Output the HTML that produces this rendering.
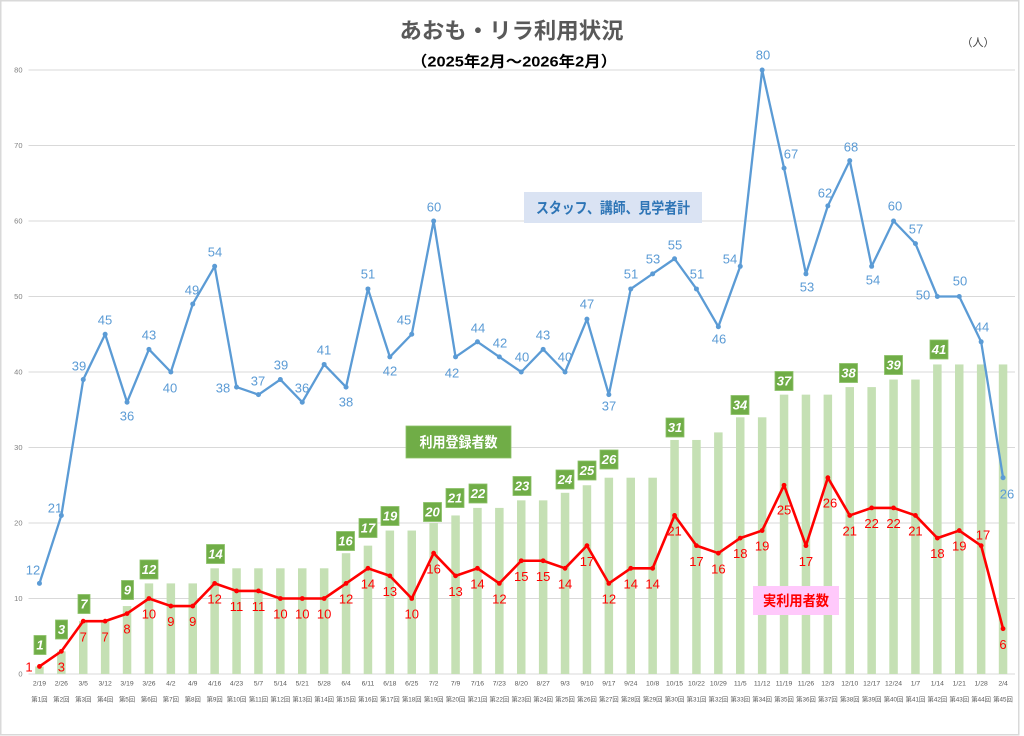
<!DOCTYPE html>
<html lang="ja">
<head>
<meta charset="utf-8">
<style>
  html,body{margin:0;padding:0;background:#fff;}
  body{width:1024px;height:736px;overflow:hidden;}
  svg{display:block;}
  .jp{font-family:"Liberation Sans","Noto Sans CJK JP",sans-serif;}
  .lat{font-family:"Liberation Sans",sans-serif;}
</style>
</head>
<body>
<svg width="1024" height="736" viewBox="0 0 1024 736" xmlns="http://www.w3.org/2000/svg">
  <defs>
    <marker id="mb" markerWidth="6" markerHeight="6" refX="3" refY="3" markerUnits="userSpaceOnUse">
      <circle cx="3" cy="3" r="2.5" fill="#5b9bd5"/>
    </marker>
    <marker id="mr" markerWidth="6" markerHeight="6" refX="3" refY="3" markerUnits="userSpaceOnUse">
      <circle cx="3" cy="3" r="2.4" fill="#ff0000"/>
    </marker>
  </defs>

  <rect x="0" y="0" width="1024" height="736" fill="#fff"/>
  <rect x="0.75" y="0.75" width="1018" height="734" fill="none" stroke="#d9d9d9" stroke-width="1.5"/>

  <!-- Title -->
  <text class="jp" x="511.5" y="38.5" text-anchor="middle" font-size="22" font-weight="bold" fill="#595959" textLength="224" lengthAdjust="spacingAndGlyphs">あおも・リラ利用状況</text>
  <text class="jp" x="514" y="66.5" text-anchor="middle" font-size="15" font-weight="bold" fill="#000" textLength="206" lengthAdjust="spacingAndGlyphs">（2025年2月～2026年2月）</text>
  <text class="jp" x="978" y="46" text-anchor="middle" font-size="11" fill="#404040">（人）</text>

  <!-- gridlines -->
  <g stroke="#d9d9d9" stroke-width="1">
    <line x1="28.5" y1="70" x2="1015" y2="70"/>
    <line x1="28.5" y1="145.5" x2="1015" y2="145.5"/>
    <line x1="28.5" y1="221" x2="1015" y2="221"/>
    <line x1="28.5" y1="296.5" x2="1015" y2="296.5"/>
    <line x1="28.5" y1="372" x2="1015" y2="372"/>
    <line x1="28.5" y1="447.5" x2="1015" y2="447.5"/>
    <line x1="28.5" y1="523" x2="1015" y2="523"/>
    <line x1="28.5" y1="598.5" x2="1015" y2="598.5"/>
    <line x1="28.5" y1="674" x2="1015" y2="674"/>
  </g>

  <!-- y tick labels -->
  <g class="lat" font-size="7.5" fill="#808080" text-anchor="end">
    <text x="22.5" y="72.7">80</text>
    <text x="22.5" y="148.2">70</text>
    <text x="22.5" y="223.7">60</text>
    <text x="22.5" y="299.2">50</text>
    <text x="22.5" y="374.7">40</text>
    <text x="22.5" y="450.2">30</text>
    <text x="22.5" y="525.7">20</text>
    <text x="22.5" y="601.2">10</text>
    <text x="22.5" y="676.7">0</text>
  </g>

  <!-- bars -->
  <g fill="#c5e0b4">
    <rect x="35.2" y="666.45" width="8.5" height="7.55"/>
    <rect x="57.1" y="651.35" width="8.5" height="22.65"/>
    <rect x="79.0" y="621.15" width="8.5" height="52.85"/>
    <rect x="100.9" y="621.15" width="8.5" height="52.85"/>
    <rect x="122.8" y="606.05" width="8.5" height="67.95"/>
    <rect x="144.7" y="583.4" width="8.5" height="90.6"/>
    <rect x="166.6" y="583.4" width="8.5" height="90.6"/>
    <rect x="188.5" y="583.4" width="8.5" height="90.6"/>
    <rect x="210.4" y="568.3" width="8.5" height="105.7"/>
    <rect x="232.3" y="568.3" width="8.5" height="105.7"/>
    <rect x="254.2" y="568.3" width="8.5" height="105.7"/>
    <rect x="276.1" y="568.3" width="8.5" height="105.7"/>
    <rect x="298.0" y="568.3" width="8.5" height="105.7"/>
    <rect x="319.9" y="568.3" width="8.5" height="105.7"/>
    <rect x="341.8" y="553.2" width="8.5" height="120.8"/>
    <rect x="363.7" y="545.65" width="8.5" height="128.35"/>
    <rect x="385.6" y="530.55" width="8.5" height="143.45"/>
    <rect x="407.5" y="530.55" width="8.5" height="143.45"/>
    <rect x="429.4" y="523" width="8.5" height="151"/>
    <rect x="451.3" y="515.45" width="8.5" height="158.55"/>
    <rect x="473.2" y="507.9" width="8.5" height="166.1"/>
    <rect x="495.1" y="507.9" width="8.5" height="166.1"/>
    <rect x="517.0" y="500.35" width="8.5" height="173.65"/>
    <rect x="538.9" y="500.35" width="8.5" height="173.65"/>
    <rect x="560.8" y="492.8" width="8.5" height="181.2"/>
    <rect x="582.7" y="485.25" width="8.5" height="188.75"/>
    <rect x="604.6" y="477.7" width="8.5" height="196.3"/>
    <rect x="626.5" y="477.7" width="8.5" height="196.3"/>
    <rect x="648.4" y="477.7" width="8.5" height="196.3"/>
    <rect x="670.3" y="439.95" width="8.5" height="234.05"/>
    <rect x="692.2" y="439.95" width="8.5" height="234.05"/>
    <rect x="714.1" y="432.4" width="8.5" height="241.6"/>
    <rect x="736.0" y="417.3" width="8.5" height="256.7"/>
    <rect x="757.9" y="417.3" width="8.5" height="256.7"/>
    <rect x="779.8" y="394.65" width="8.5" height="279.35"/>
    <rect x="801.7" y="394.65" width="8.5" height="279.35"/>
    <rect x="823.6" y="394.65" width="8.5" height="279.35"/>
    <rect x="845.5" y="387.1" width="8.5" height="286.9"/>
    <rect x="867.4" y="387.1" width="8.5" height="286.9"/>
    <rect x="889.3" y="379.55" width="8.5" height="294.45"/>
    <rect x="911.2" y="379.55" width="8.5" height="294.45"/>
    <rect x="933.1" y="364.45" width="8.5" height="309.55"/>
    <rect x="955.0" y="364.45" width="8.5" height="309.55"/>
    <rect x="976.9" y="364.45" width="8.5" height="309.55"/>
    <rect x="998.8" y="364.45" width="8.5" height="309.55"/>
  </g>

  <!-- blue line -->
  <polyline fill="none" stroke="#5b9bd5" stroke-width="2.3" stroke-linejoin="round"
    marker-start="url(#mb)" marker-mid="url(#mb)" marker-end="url(#mb)"
    points="39.45,583.4 61.35,515.45 83.25,379.55 105.15,334.25 127.05,402.2 148.95,349.35 170.85,372 192.75,304.05 214.65,266.3 236.55,387.1 258.45,394.65 280.35,379.55 302.25,402.2 324.15,364.45 346.05,387.1 367.95,288.95 389.85,356.9 411.75,334.25 433.65,221 455.55,356.9 477.45,341.8 499.35,356.9 521.25,372 543.15,349.35 565.05,372 586.95,319.15 608.85,394.65 630.75,288.95 652.65,273.85 674.55,258.75 696.45,288.95 718.35,326.7 740.25,266.3 762.15,70 784.05,168.15 805.95,273.85 827.85,205.9 849.75,160.6 871.65,266.3 893.55,221 915.45,243.65 937.35,296.5 959.25,296.5 981.15,341.8 1003.05,477.7"/>

  <!-- red line -->
  <polyline fill="none" stroke="#ff0000" stroke-width="2.6" stroke-linejoin="round"
    marker-start="url(#mr)" marker-mid="url(#mr)" marker-end="url(#mr)"
    points="39.45,666.45 61.35,651.35 83.25,621.15 105.15,621.15 127.05,613.6 148.95,598.5 170.85,606.05 192.75,606.05 214.65,583.4 236.55,590.95 258.45,590.95 280.35,598.5 302.25,598.5 324.15,598.5 346.05,583.4 367.95,568.3 389.85,575.85 411.75,598.5 433.65,553.2 455.55,575.85 477.45,568.3 499.35,583.4 521.25,560.75 543.15,560.75 565.05,568.3 586.95,545.65 608.85,583.4 630.75,568.3 652.65,568.3 674.55,515.45 696.45,545.65 718.35,553.2 740.25,538.1 762.15,530.55 784.05,485.25 805.95,545.65 827.85,477.7 849.75,515.45 871.65,507.9 893.55,507.9 915.45,515.45 937.35,538.1 959.25,530.55 981.15,545.65 1003.05,628.7"/>

  <!-- green labels (registered) -->
  <g fill="#70ad47" stroke="#8cc168" stroke-width="0.8">
    <rect x="34" y="635.5" width="12" height="19"/>
    <rect x="55.5" y="620" width="12" height="19"/>
    <rect x="78" y="594.5" width="12" height="19"/>
    <rect x="121.5" y="580.5" width="12" height="19"/>
    <rect x="140" y="560" width="18" height="19"/>
    <rect x="206.5" y="544.5" width="18" height="19"/>
    <rect x="336.5" y="531.5" width="18" height="19"/>
    <rect x="359" y="518.5" width="18" height="19"/>
    <rect x="381" y="506.5" width="18" height="19"/>
    <rect x="423.5" y="502.5" width="18" height="19"/>
    <rect x="446" y="488.5" width="18" height="19"/>
    <rect x="469" y="484" width="18" height="19"/>
    <rect x="513" y="476.5" width="18" height="19"/>
    <rect x="556" y="470" width="18" height="19"/>
    <rect x="578" y="461" width="18" height="19"/>
    <rect x="600" y="450" width="18" height="19"/>
    <rect x="666" y="418" width="18" height="19"/>
    <rect x="731" y="395.5" width="18" height="19"/>
    <rect x="775" y="371.5" width="18" height="19"/>
    <rect x="839.5" y="363.5" width="18" height="19"/>
    <rect x="884.5" y="355.5" width="18" height="19"/>
    <rect x="930" y="340" width="18" height="19"/>
  </g>
  <g class="lat" font-size="13" font-weight="bold" font-style="italic" fill="#fff" text-anchor="middle">
    <text x="40" y="649.7">1</text>
    <text x="61.5" y="634.2">3</text>
    <text x="84" y="608.7">7</text>
    <text x="127.5" y="594.7">9</text>
    <text x="149" y="574.2">12</text>
    <text x="215.5" y="558.7">14</text>
    <text x="345.5" y="545.7">16</text>
    <text x="368" y="532.7">17</text>
    <text x="390" y="520.7">19</text>
    <text x="432.5" y="516.7">20</text>
    <text x="455" y="502.7">21</text>
    <text x="478" y="498.2">22</text>
    <text x="522" y="490.7">23</text>
    <text x="565" y="484.2">24</text>
    <text x="587" y="475.2">25</text>
    <text x="609" y="464.2">26</text>
    <text x="675" y="432.2">31</text>
    <text x="740" y="409.7">34</text>
    <text x="784" y="385.7">37</text>
    <text x="848.5" y="377.7">38</text>
    <text x="893.5" y="369.7">39</text>
    <text x="939" y="354.2">41</text>
  </g>

  <!-- blue labels -->
  <g class="lat" font-size="13" fill="#5b9bd5" text-anchor="middle">
    <text x="33" y="574.65">12</text>
    <text x="55" y="512.65">21</text>
    <text x="79" y="370.65">39</text>
    <text x="105" y="324.65">45</text>
    <text x="127" y="420.65">36</text>
    <text x="149" y="339.65">43</text>
    <text x="170" y="392.65">40</text>
    <text x="192" y="294.65">49</text>
    <text x="215" y="256.65">54</text>
    <text x="223" y="392.65">38</text>
    <text x="258" y="385.65">37</text>
    <text x="281" y="369.65">39</text>
    <text x="302" y="392.65">36</text>
    <text x="324" y="354.65">41</text>
    <text x="346" y="406.65">38</text>
    <text x="368" y="278.65">51</text>
    <text x="390" y="375.65">42</text>
    <text x="404" y="324.65">45</text>
    <text x="434" y="211.65">60</text>
    <text x="452" y="377.65">42</text>
    <text x="478" y="332.65">44</text>
    <text x="500" y="347.65">42</text>
    <text x="522" y="361.65">40</text>
    <text x="543" y="339.65">43</text>
    <text x="565" y="361.65">40</text>
    <text x="587" y="308.65">47</text>
    <text x="609" y="410.65">37</text>
    <text x="631" y="278.65">51</text>
    <text x="653" y="263.65">53</text>
    <text x="675" y="249.65">55</text>
    <text x="697" y="278.65">51</text>
    <text x="719" y="343.65">46</text>
    <text x="730" y="263.65">54</text>
    <text x="763" y="59.65">80</text>
    <text x="791" y="158.65">67</text>
    <text x="807" y="291.65">53</text>
    <text x="825" y="197.65">62</text>
    <text x="851" y="151.65">68</text>
    <text x="873" y="284.65">54</text>
    <text x="895" y="210.65">60</text>
    <text x="916" y="233.65">57</text>
    <text x="923" y="299.65">50</text>
    <text x="960" y="285.65">50</text>
    <text x="982" y="331.65">44</text>
    <text x="1007" y="498.65">26</text>
  </g>

  <!-- red labels -->
  <g class="lat" font-size="13" fill="#ff0000" text-anchor="middle">
    <text x="29" y="671.7">1</text>
    <text x="61.35" y="671.45">3</text>
    <text x="83.25" y="641.25">7</text>
    <text x="105.15" y="641.25">7</text>
    <text x="127.05" y="633.7">8</text>
    <text x="148.95" y="618.6">10</text>
    <text x="170.85" y="626.15">9</text>
    <text x="192.75" y="626.15">9</text>
    <text x="214.65" y="603.5">12</text>
    <text x="236.55" y="611.05">11</text>
    <text x="258.45" y="611.05">11</text>
    <text x="280.35" y="618.6">10</text>
    <text x="302.25" y="618.6">10</text>
    <text x="324.15" y="618.6">10</text>
    <text x="346.05" y="603.5">12</text>
    <text x="367.95" y="588.4">14</text>
    <text x="389.85" y="595.95">13</text>
    <text x="411.75" y="618.6">10</text>
    <text x="433.65" y="573.3">16</text>
    <text x="455.55" y="595.95">13</text>
    <text x="477.45" y="588.4">14</text>
    <text x="499.35" y="603.5">12</text>
    <text x="521.25" y="580.85">15</text>
    <text x="543.15" y="580.85">15</text>
    <text x="565.05" y="588.4">14</text>
    <text x="586.95" y="565.75">17</text>
    <text x="608.85" y="603.5">12</text>
    <text x="630.75" y="588.4">14</text>
    <text x="652.65" y="588.4">14</text>
    <text x="674.55" y="535.55">21</text>
    <text x="696.45" y="565.75">17</text>
    <text x="718.35" y="573.3">16</text>
    <text x="740.25" y="558.2">18</text>
    <text x="762.15" y="550.65">19</text>
    <text x="784.05" y="514.6">25</text>
    <text x="805.95" y="565.75">17</text>
    <text x="830" y="507.6">26</text>
    <text x="849.75" y="535.55">21</text>
    <text x="871.65" y="528">22</text>
    <text x="893.55" y="528">22</text>
    <text x="915.45" y="535.55">21</text>
    <text x="937.35" y="558.2">18</text>
    <text x="959.25" y="550.65">19</text>
    <text x="983" y="539.6">17</text>
    <text x="1003.05" y="649">6</text>
  </g>

  <!-- legend boxes -->
  <rect x="524" y="192" width="178" height="31" fill="#dae3f3"/>
  <text class="jp" x="613" y="213" text-anchor="middle" font-size="15" font-weight="bold" fill="#2e75b6" textLength="154" lengthAdjust="spacingAndGlyphs">スタッフ、講師、見学者計</text>

  <rect x="406" y="426" width="105" height="32" fill="#70ad47" stroke="#8cc168" stroke-width="0.8"/>
  <text class="jp" x="458.5" y="447.5" text-anchor="middle" font-size="14.5" font-weight="bold" fill="#ffffff" textLength="78" lengthAdjust="spacingAndGlyphs">利用登録者数</text>

  <rect x="753" y="586" width="86" height="29" fill="#ffc9fb"/>
  <text class="jp" x="796" y="606" text-anchor="middle" font-size="14.5" font-weight="bold" fill="#ff0000" textLength="66" lengthAdjust="spacingAndGlyphs">実利用者数</text>

  <!-- x axis date labels -->
  <g class="lat" font-size="6.8" fill="#595959" text-anchor="middle">
    <text x="39.45" y="685.5">2/19</text>
    <text x="61.35" y="685.5">2/26</text>
    <text x="83.25" y="685.5">3/5</text>
    <text x="105.15" y="685.5">3/12</text>
    <text x="127.05" y="685.5">3/19</text>
    <text x="148.95" y="685.5">3/26</text>
    <text x="170.85" y="685.5">4/2</text>
    <text x="192.75" y="685.5">4/9</text>
    <text x="214.65" y="685.5">4/16</text>
    <text x="236.55" y="685.5">4/23</text>
    <text x="258.45" y="685.5">5/7</text>
    <text x="280.35" y="685.5">5/14</text>
    <text x="302.25" y="685.5">5/21</text>
    <text x="324.15" y="685.5">5/28</text>
    <text x="346.05" y="685.5">6/4</text>
    <text x="367.95" y="685.5">6/11</text>
    <text x="389.85" y="685.5">6/18</text>
    <text x="411.75" y="685.5">6/25</text>
    <text x="433.65" y="685.5">7/2</text>
    <text x="455.55" y="685.5">7/9</text>
    <text x="477.45" y="685.5">7/16</text>
    <text x="499.35" y="685.5">7/23</text>
    <text x="521.25" y="685.5">8/20</text>
    <text x="543.15" y="685.5">8/27</text>
    <text x="565.05" y="685.5">9/3</text>
    <text x="586.95" y="685.5">9/10</text>
    <text x="608.85" y="685.5">9/17</text>
    <text x="630.75" y="685.5">9/24</text>
    <text x="652.65" y="685.5">10/8</text>
    <text x="674.55" y="685.5">10/15</text>
    <text x="696.45" y="685.5">10/22</text>
    <text x="718.35" y="685.5">10/29</text>
    <text x="740.25" y="685.5">11/5</text>
    <text x="762.15" y="685.5">11/12</text>
    <text x="784.05" y="685.5">11/19</text>
    <text x="805.95" y="685.5">11/26</text>
    <text x="827.85" y="685.5">12/3</text>
    <text x="849.75" y="685.5">12/10</text>
    <text x="871.65" y="685.5">12/17</text>
    <text x="893.55" y="685.5">12/24</text>
    <text x="915.45" y="685.5">1/7</text>
    <text x="937.35" y="685.5">1/14</text>
    <text x="959.25" y="685.5">1/21</text>
    <text x="981.15" y="685.5">1/28</text>
    <text x="1003.05" y="685.5">2/4</text>
  </g>

  <!-- x axis session labels -->
  <g class="jp" font-size="6.3" fill="#595959" text-anchor="middle">
    <text x="39.45" y="701.3">第1回</text>
    <text x="61.35" y="701.3">第2回</text>
    <text x="83.25" y="701.3">第3回</text>
    <text x="105.15" y="701.3">第4回</text>
    <text x="127.05" y="701.3">第5回</text>
    <text x="148.95" y="701.3">第6回</text>
    <text x="170.85" y="701.3">第7回</text>
    <text x="192.75" y="701.3">第8回</text>
    <text x="214.65" y="701.3">第9回</text>
    <text x="236.55" y="701.3">第10回</text>
    <text x="258.45" y="701.3">第11回</text>
    <text x="280.35" y="701.3">第12回</text>
    <text x="302.25" y="701.3">第13回</text>
    <text x="324.15" y="701.3">第14回</text>
    <text x="346.05" y="701.3">第15回</text>
    <text x="367.95" y="701.3">第16回</text>
    <text x="389.85" y="701.3">第17回</text>
    <text x="411.75" y="701.3">第18回</text>
    <text x="433.65" y="701.3">第19回</text>
    <text x="455.55" y="701.3">第20回</text>
    <text x="477.45" y="701.3">第21回</text>
    <text x="499.35" y="701.3">第22回</text>
    <text x="521.25" y="701.3">第23回</text>
    <text x="543.15" y="701.3">第24回</text>
    <text x="565.05" y="701.3">第25回</text>
    <text x="586.95" y="701.3">第26回</text>
    <text x="608.85" y="701.3">第27回</text>
    <text x="630.75" y="701.3">第28回</text>
    <text x="652.65" y="701.3">第29回</text>
    <text x="674.55" y="701.3">第30回</text>
    <text x="696.45" y="701.3">第31回</text>
    <text x="718.35" y="701.3">第32回</text>
    <text x="740.25" y="701.3">第33回</text>
    <text x="762.15" y="701.3">第34回</text>
    <text x="784.05" y="701.3">第35回</text>
    <text x="805.95" y="701.3">第36回</text>
    <text x="827.85" y="701.3">第37回</text>
    <text x="849.75" y="701.3">第38回</text>
    <text x="871.65" y="701.3">第39回</text>
    <text x="893.55" y="701.3">第40回</text>
    <text x="915.45" y="701.3">第41回</text>
    <text x="937.35" y="701.3">第42回</text>
    <text x="959.25" y="701.3">第43回</text>
    <text x="981.15" y="701.3">第44回</text>
    <text x="1003.05" y="701.3">第45回</text>
  </g>
</svg>
</body>
</html>
